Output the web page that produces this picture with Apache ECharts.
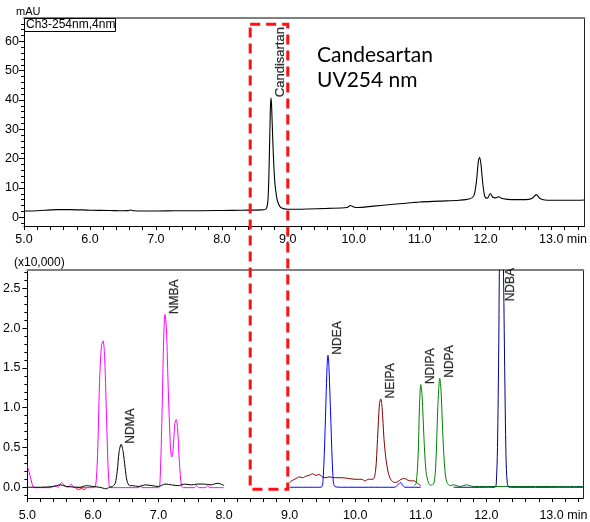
<!DOCTYPE html>
<html><head><meta charset="utf-8">
<script src="https://cdn.jsdelivr.net/npm/echarts@6/dist/echarts.min.js"></script>
<style>html,body{margin:0;padding:0;background:#fff}#c{width:590px;height:522px}</style>
</head><body><div id="c"></div>
<script>
// ---- Data (time in min, top: mAU, bottom: x10,000 counts) ----
const uvTrace = [[5.0,2.1],[5.2,2.2],[5.4,2.5],[5.5,2.6],[5.7,2.6],[6.0,2.4],[6.3,2.3],[6.5,2.2],[6.58,2.25],[6.62,2.45],[6.66,2.2],[6.8,2.1],[7.0,2.1],[7.3,2.2],[7.6,2.2],[8.0,2.3],[8.3,2.4],[8.6,2.5],[8.67,2.8],[8.70,6],[8.72,20],[8.735,36],[8.745,40.8],[8.755,38],[8.775,25],[8.80,13],[8.83,7],[8.86,4.5],[8.9,3.2],[9.0,2.7],[9.3,2.8],[9.6,3.0],[9.9,3.3],[9.95,4.0],[10.0,3.5],[10.05,3.3],[10.3,3.8],[10.6,4.4],[10.9,5.0],[11.0,5.2],[11.3,5.5],[11.6,5.8],[11.75,6.2],[11.82,7.2],[11.86,12],[11.89,19],[11.91,20.4],[11.93,18],[11.96,11],[11.99,7],[12.03,6.5],[12.07,8.1],[12.11,6.8],[12.15,6.6],[12.2,7.0],[12.25,6.4],[12.4,6.0],[12.6,6.0],[12.7,6.4],[12.77,7.7],[12.82,6.5],[12.9,5.9],[13.1,5.8],[13.3,5.8],[13.5,5.9]];

const nmbaTrace = [[5.0,0.27],[5.03,0.18],[5.07,0.05],[5.1,-0.005],[5.2,-0.005],[5.35,-0.005],[5.42,0.02],[5.47,0.0],[5.52,0.06],[5.57,0.02],[5.62,0.0],[5.67,0.04],[5.7,0.0],[5.75,-0.005],[6.0,-0.005],[6.04,0.01],[6.07,0.4],[6.10,1.3],[6.13,1.78],[6.155,1.84],[6.18,1.6],[6.21,0.8],[6.24,0.1],[6.27,-0.005],[6.5,-0.005],[6.7,-0.005],[6.72,0.02],[6.75,-0.005],[7.0,-0.005],[7.02,0.02],[7.05,0.8],[7.08,1.9],[7.10,2.17],[7.12,2.0],[7.15,1.2],[7.18,0.55],[7.2,0.38],[7.22,0.45],[7.25,0.8],[7.27,0.85],[7.29,0.75],[7.32,0.3],[7.35,0.02],[7.38,-0.005],[7.55,-0.005],[7.58,0.02],[7.62,-0.005],[7.72,-0.005],[7.75,0.02],[7.78,-0.005],[8.0,-0.005]];

const ndmaTrace = [[5.0,0.0],[5.2,0.0],[5.4,0.01],[5.5,0.03],[5.6,0.01],[5.8,0.0],[5.9,0.02],[6.0,0.01],[6.1,0.0],[6.15,-0.01],[6.2,-0.02],[6.25,0.0],[6.3,0.01],[6.34,0.05],[6.37,0.2],[6.40,0.45],[6.43,0.54],[6.46,0.45],[6.49,0.25],[6.52,0.08],[6.56,0.02],[6.6,0.02],[6.7,0.01],[6.8,0.03],[6.9,0.02],[7.0,0.01],[7.1,0.04],[7.2,0.03],[7.3,0.02],[7.4,0.04],[7.5,0.03],[7.6,0.04],[7.7,0.04],[7.8,0.03],[7.9,0.05],[7.95,0.04],[8.0,0.02]];

const minorRedTrace = [[5.74,-0.01],[5.78,-0.03],[5.82,-0.015],[5.86,-0.03],[5.9,-0.01]];

const ndeaTrace = [[9.0,0.0],[9.3,0.0],[9.48,0.0],[9.51,0.1],[9.54,0.7],[9.57,1.5],[9.585,1.66],[9.60,1.5],[9.63,0.8],[9.66,0.15],[9.69,0.01],[9.8,0.0],[10.2,0.0],[10.6,0.0],[10.65,0.03],[10.69,0.06],[10.73,0.02],[10.76,0.0],[11.0,0.0]];

const neipaTrace = [[9.0,0.06],[9.05,0.09],[9.1,0.11],[9.15,0.13],[9.2,0.12],[9.25,0.14],[9.3,0.15],[9.35,0.17],[9.4,0.15],[9.45,0.16],[9.5,0.13],[9.55,0.12],[9.6,0.13],[9.7,0.12],[9.8,0.12],[9.9,0.11],[10.0,0.1],[10.1,0.1],[10.15,0.08],[10.2,0.1],[10.27,0.1],[10.31,0.2],[10.34,0.6],[10.37,1.05],[10.39,1.11],[10.41,1.0],[10.44,0.6],[10.47,0.35],[10.5,0.2],[10.54,0.1],[10.6,0.06],[10.65,0.07],[10.7,0.1],[10.75,0.11],[10.8,0.09],[10.85,0.08],[10.9,0.08],[10.95,0.05],[11.0,0.02]];

const ndipaNdpaTrace = [[10.9,0.02],[10.93,0.05],[10.96,0.4],[10.98,1.0],[11.0,1.29],[11.02,1.15],[11.05,0.6],[11.08,0.2],[11.12,0.05],[11.15,0.025],[11.2,0.05],[11.23,0.3],[11.26,1.0],[11.29,1.37],[11.31,1.2],[11.34,0.6],[11.37,0.2],[11.4,0.06],[11.45,0.02],[11.5,0.03],[11.6,0.01],[11.7,0.03],[11.8,0.01],[12.0,0.01],[12.5,0.01],[13.0,0.01],[13.5,0.01]];

const ndbaTrace = [[11.5,0.0],[12.0,0.0],[12.13,0.0],[12.15,0.03],[12.17,0.5],[12.19,1.8],[12.20,2.8],[12.23,4.0],[12.26,2.8],[12.28,1.5],[12.30,0.4],[12.32,0.05],[12.35,0.0],[12.5,0.0],[13.0,0.0],[13.5,0.0]];

const topPeakNames = ['Candisartan'];
const topPeakAnchors = [[8.745, 40.8]];
const bottomPeakNames = ['NDMA','NMBA','NDEA','NEIPA','NDIPA','NDPA','NDBA'];
const bottomPeakAnchors = [[6.43,0.54],[7.10,2.17],[9.585,1.66],[10.39,1.11],[11.0,1.29],[11.29,1.37],[12.23,2.33]];

const xTickLabels = [5,6,7,8,9,10,11,12,13];
const topYTickLabels = [0,10,20,30,40,50,60];
const bottomYTickLabels = [0,0.5,1.0,1.5,2.0,2.5];
const boxRange = {x: [8.43, 9.0], yTop: 65.9, yBottom: -0.025};

function steps(a, b, s) { const r = []; const n = Math.round((b - a) / s); for (let i = 0; i <= n; i++) r.push(+(a + i * s).toFixed(3)); return r; }
const xMinor = steps(5, 13.4, 0.2);
const topYMinor = steps(-2, 66, 2);
const bottomYMinor = steps(-0.1, 2.7, 0.1);

const FONT = 'Liberation Sans';
const chart = echarts.init(document.getElementById('c'), null, {renderer: 'canvas'});

function xMain(grid, max) {
  return {
    type: 'value', gridIndex: grid, min: 5, max: max, position: 'bottom',
    axisLine: {show: true, onZero: false, lineStyle: {color: '#000', width: 1}},
    axisTick: {show: true, customValues: xMinor, length: 4, lineStyle: {color: '#000'}},
    axisLabel: {show: true, customValues: xTickLabels, color: '#000', fontFamily: FONT, fontSize: 12.5,
      margin: grid === 0 ? 7 : 11,
      formatter: v => v === 13 ? '{p|}13.0 min' : v.toFixed(1),
      rich: {p: {width: 23}}},
    splitLine: {show: false}
  };
}
function xFrame(grid, max) {
  return {type: 'value', gridIndex: grid, min: 5, max: max, position: 'top',
    axisLine: {show: true, onZero: false, lineStyle: {color: '#808080', width: 2}},
    axisTick: {show: false}, axisLabel: {show: false}, splitLine: {show: false}};
}
function yMain(grid, min, max, minor, labels, fmt, margin) {
  return {type: 'value', gridIndex: grid, min: min, max: max, position: 'left',
    axisLine: {show: true, onZero: false, lineStyle: {color: '#000', width: 1}},
    axisTick: {show: true, customValues: minor, length: 3, lineStyle: {color: '#000'}},
    axisLabel: {show: true, customValues: labels, color: '#000', fontFamily: FONT, fontSize: 12.5, margin: margin, formatter: fmt},
    splitLine: {show: false}};
}
function yMajor(grid, min, max, labels) {
  return {type: 'value', gridIndex: grid, min: min, max: max, position: 'left',
    axisLine: {show: false}, axisTick: {show: true, customValues: labels, length: 5, lineStyle: {color: '#000'}},
    axisLabel: {show: false}, splitLine: {show: false}};
}
function yFrame(grid, min, max) {
  return {type: 'value', gridIndex: grid, min: min, max: max, position: 'right',
    axisLine: {show: true, onZero: false, lineStyle: {color: '#222', width: 1}},
    axisTick: {show: false}, axisLabel: {show: false}, splitLine: {show: false}};
}
function trace(data, color, xi, yi, w) {
  return {type: 'line', data: data, xAxisIndex: xi, yAxisIndex: yi, showSymbol: false, symbol: 'none',
    smooth: 0.3, lineStyle: {color: color, width: w || 1}, clip: true, silent: true, animation: false};
}
function peakLabels(names, anchors, xi, yi, size) {
  return {type: 'scatter', xAxisIndex: xi, yAxisIndex: yi, symbolSize: 1, itemStyle: {color: 'rgba(0,0,0,0)'},
    silent: true, z: 10, animation: false,
    data: names.map((n, i) => ({name: n, value: anchors[i]})),
    label: {show: true, formatter: '{b}', rotate: 90, position: [10, 0], align: 'left', verticalAlign: 'middle',
      color: '#000', fontFamily: FONT, fontSize: size, textBorderColor: '#000', textBorderWidth: 0.25}};
}

const option = {
  animation: false,
  backgroundColor: '#fff',
  grid: [
    {left: 24, right: 2, top: 18, height: 208},
    {left: 21, right: 2, top: 270, height: 233}
  ],
  xAxis: [xMain(0, 13.5), xFrame(0, 13.5), xMain(1, 13.48), xFrame(1, 13.48)],
  yAxis: [
    yMain(0, -3, 68, topYMinor, topYTickLabels, v => String(v), 5),
    yFrame(0, -3, 68),
    yMajor(0, -3, 68, topYTickLabels),
    yMain(1, -0.135, 2.73, bottomYMinor, bottomYTickLabels, v => v.toFixed(1), 7),
    yFrame(1, -0.135, 2.73),
    yMajor(1, -0.135, 2.73, bottomYTickLabels)
  ],
  series: [
    trace(uvTrace, '#000', 0, 0, 1.1),
    trace(nmbaTrace, '#ff00ff', 2, 3),
    trace(ndmaTrace, '#000', 2, 3),
    trace(minorRedTrace, '#ff0000', 2, 3),
    trace(neipaTrace, '#800000', 2, 3),
    trace(ndeaTrace, '#0000ff', 2, 3),
    trace(ndipaNdpaTrace, '#008000', 2, 3),
    trace(ndbaTrace, '#000080', 2, 3),
    peakLabels(topPeakNames, topPeakAnchors, 0, 0, 13),
    peakLabels(bottomPeakNames, bottomPeakAnchors, 2, 3, 12)
  ],
  graphic: [
    {type: 'text', left: 16, top: 6, style: {text: 'mAU', fontFamily: FONT, fontSize: 11, fill: '#000'}},
    {type: 'rect', shape: {x: 24.5, y: 18.5, width: 91, height: 13}, style: {fill: '#fff', stroke: '#000', lineWidth: 1}, z: 20},
    {type: 'text', left: 26, top: 19, z: 21, style: {text: 'Ch3-254nm,4nm', fontFamily: FONT, fontSize: 12, fill: '#000'}},
    {type: 'text', left: 14, top: 257, style: {text: '(x10,000)', fontFamily: FONT, fontSize: 12, fill: '#000'}},
    {type: 'text', left: 317, top: 43, style: {text: 'Candesartan\nUV254 nm', fontFamily: 'Lato', fontSize: 21, lineHeight: 25, fill: '#000'}}
  ]
};
chart.setOption(option);

const pTop = chart.convertToPixel({xAxisIndex: 0, yAxisIndex: 0}, [boxRange.x[0], boxRange.yTop]);
const pTopR = chart.convertToPixel({xAxisIndex: 0, yAxisIndex: 0}, [boxRange.x[1], boxRange.yTop]);
const pBot = chart.convertToPixel({xAxisIndex: 2, yAxisIndex: 3}, [boxRange.x[0], boxRange.yBottom]);
option.graphic.push({type: 'rect', z: 30,
  shape: {x: pTop[0], y: pTop[1], width: pTopR[0] - pTop[0], height: pBot[1] - pTop[1]},
  style: {fill: 'none', stroke: '#ff1010', lineWidth: 3, lineDash: [10, 6]}});
chart.setOption({graphic: option.graphic});
</script></body></html>
